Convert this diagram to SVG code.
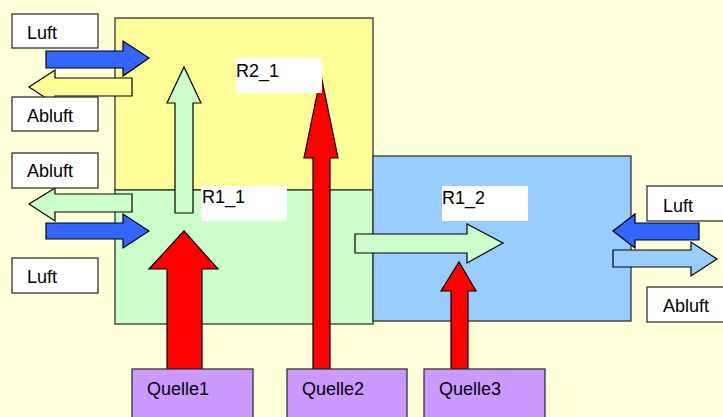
<svg xmlns="http://www.w3.org/2000/svg" width="723" height="417" viewBox="0 0 723 417">
<style>
.box{stroke:#333;stroke-width:1.3}
.arr{stroke:#000;stroke-width:1.2;stroke-linejoin:miter}
.lbl{fill:#fff;stroke:#333;stroke-width:1.3}
.tag{fill:#fff}
text{font-family:"Liberation Sans",Arial,sans-serif;font-size:18px;fill:#000}
</style>
<rect x="0" y="0" width="723" height="417" fill="#FFFFD9"/>
<g id="R2">
<rect class="box" x="115" y="18" width="258" height="172" fill="#FFFF99"/>
</g>
<g id="R1_1box">
<rect class="box" x="115" y="190" width="258" height="134" fill="#CCFFCC"/>
</g>
<g id="R1_2box">
<rect class="box" x="373" y="156" width="258" height="165" fill="#99CCFF"/>
</g>
<g id="connectors">
<polygon class="arr" fill="#3366FF" points="46,51 123,51 123,41 149,58 123,76 123,68 46,68"/>
<polygon class="arr" fill="#FFFF99" points="132,78 55,78 55,70 29,87 55,104 55,96 132,96"/>
<polygon class="arr" fill="#CCFFCC" points="132,194 55,194 55,188 29,204 55,221 55,212 132,212"/>
<polygon class="arr" fill="#3366FF" points="46,223 123,223 123,214 149,231 123,248 123,239 46,239"/>
<polygon class="arr" fill="#CCFFCC" points="175,213 175,103 167,103 184,67 201,103 193,103 193,213"/>
<polygon class="arr" fill="#FF0000" points="313,369 313,158 304,158 321,75 338,158 330,158 330,369"/>
<polygon class="arr" fill="#FF0000" points="167,369 167,269 149,269 184,231 218,269 202,269 202,369"/>
<polygon class="arr" fill="#FF0000" points="451,369 451,291 441,291 459,262 476,291 468,291 468,369"/>
<polygon class="arr" fill="#CCFFCC" points="355,234 467,234 467,224 503,243 467,263 467,253 355,253"/>
<polygon class="arr" fill="#3366FF" points="699,223 635,223 635,214 613,231 635,248 635,240 699,240"/>
<polygon class="arr" fill="#99CCFF" points="613,250 691,250 691,242 717,259 691,276 691,267 613,267"/>
</g>
<g id="label-luft1"><rect class="lbl" x="12" y="14" width="86" height="34"/><text x="27" y="39">Luft</text></g>
<g id="label-abluft1"><rect class="lbl" x="12" y="97" width="86" height="34"/><text x="27" y="122">Abluft</text></g>
<g id="label-abluft2"><rect class="lbl" x="12" y="153" width="86" height="35"/><text x="27" y="177">Abluft</text></g>
<g id="label-luft2"><rect class="lbl" x="12" y="258" width="86" height="35"/><text x="27" y="283">Luft</text></g>
<g id="label-luft3"><rect class="lbl" x="647" y="186" width="80" height="35"/><text x="663" y="212">Luft</text></g>
<g id="label-abluft3"><rect class="lbl" x="647" y="287" width="80" height="35"/><text x="663" y="312">Abluft</text></g>
<g id="tag-R2_1"><rect class="tag" x="236" y="58" width="86" height="35"/><text x="236" y="77">R2_1</text></g>
<g id="tag-R1_1"><rect class="tag" x="201" y="186" width="86" height="35"/><text x="202" y="203">R1_1</text></g>
<g id="tag-R1_2"><rect class="tag" x="442" y="186" width="86" height="35"/><text x="442" y="204">R1_2</text></g>
<g id="Quelle1"><rect class="box" x="132" y="369" width="121" height="52" fill="#CC99FF"/><text x="147" y="395">Quelle1</text></g>
<g id="Quelle2"><rect class="box" x="287" y="369" width="120" height="52" fill="#CC99FF"/><text x="302" y="395">Quelle2</text></g>
<g id="Quelle3"><rect class="box" x="424" y="369" width="121" height="52" fill="#CC99FF"/><text x="439" y="395">Quelle3</text></g>
</svg>
